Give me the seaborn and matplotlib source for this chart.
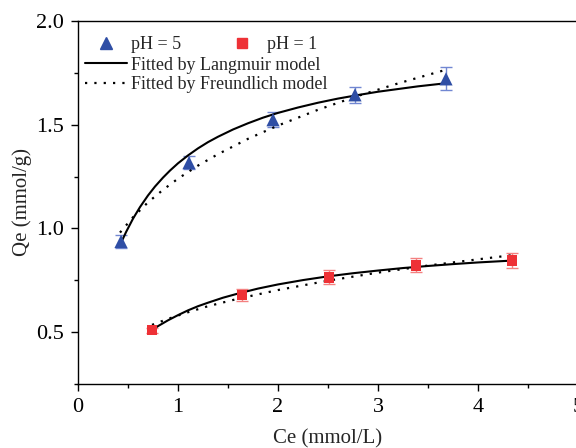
import numpy as np
import pandas as pd
import matplotlib
matplotlib.use("Agg")
import matplotlib.pyplot as plt
from matplotlib.lines import Line2D
from matplotlib.ticker import MultipleLocator
import seaborn as sns

# measured points (mean +/- error)
ce_ph5 = [0.43, 1.11, 1.95, 2.77, 3.68]
qe_ph5 = [0.937, 1.317, 1.524, 1.644, 1.721]
err_ph5 = [0.03, 0.03, 0.035, 0.04, 0.056]

ce_ph1 = [0.74, 1.64, 2.51, 3.38, 4.34]
qe_ph1 = [0.51, 0.680, 0.764, 0.822, 0.845]
err_ph1 = [0.012, 0.03, 0.034, 0.034, 0.038]

# fitted curves
lang_x5 = [0.43, 0.48, 0.55, 0.62, 0.7, 0.77, 0.85, 0.92, 1.0, 1.1, 1.2, 1.3, 1.4,
           1.55, 1.7, 1.85, 2.0, 2.2, 2.4, 2.6, 2.8, 3.0, 3.2, 3.4, 3.68]
lang_y5 = [0.930, 0.982, 1.047, 1.103, 1.159, 1.202, 1.245, 1.279, 1.314, 1.352, 1.386,
           1.416, 1.442, 1.477, 1.507, 1.534, 1.557, 1.583, 1.606, 1.626, 1.643, 1.659,
           1.672, 1.685, 1.700]
freu_x5 = [0.42, 0.55, 0.7, 0.85, 1.0, 1.2, 1.4, 1.7, 2.0, 2.4, 2.8, 3.2, 3.68]
freu_y5 = [0.980, 1.054, 1.126, 1.186, 1.240, 1.303, 1.358, 1.432, 1.496, 1.572, 1.639, 1.699, 1.765]

lang_x1 = [0.74, 0.8, 0.9, 1.0, 1.1, 1.2, 1.3, 1.45, 1.6, 1.8, 2.0, 2.25, 2.5, 2.75,
           3.0, 3.25, 3.5, 3.75, 4.0, 4.34]
lang_y1 = [0.510, 0.529, 0.557, 0.582, 0.605, 0.625, 0.642, 0.666, 0.686, 0.710, 0.730,
           0.751, 0.769, 0.784, 0.797, 0.809, 0.819, 0.828, 0.836, 0.845]
freu_x1 = [0.74, 0.9, 1.1, 1.3, 1.6, 2.0, 2.5, 3.0, 3.5, 4.0, 4.34]
freu_y1 = [0.535, 0.564, 0.596, 0.625, 0.661, 0.703, 0.748, 0.787, 0.821, 0.851, 0.871]

x_ticks = [0, 1, 2, 3, 4, 5]
y_ticks = [0.5, 1.0, 1.5, 2.0]

BLUE = "#2F4EA5"
BLUE_ERR = "#7187D2"
RED = "#EE3136"
RED_ERR = "#F48080"

sns.set_theme(style="ticks")
plt.rcParams["font.family"] = ["Liberation Serif", "DejaVu Serif"]

fig = plt.figure(figsize=(5.76, 4.48), dpi=100)
ax = fig.add_axes([78 / 576, (448 - 384) / 448, 500 / 576, (384 - 21) / 448])

# fitted lines
lines = pd.concat([
    pd.DataFrame({"x": lang_x5, "y": lang_y5, "curve": "L5"}),
    pd.DataFrame({"x": lang_x1, "y": lang_y1, "curve": "L1"}),
])
dots = pd.concat([
    pd.DataFrame({"x": freu_x5, "y": freu_y5, "curve": "F5"}),
    pd.DataFrame({"x": freu_x1, "y": freu_y1, "curve": "F1"}),
])
sns.lineplot(data=lines, x="x", y="y", units="curve", estimator=None, sort=False,
             color="black", lw=1.5, ax=ax, zorder=3)
sns.lineplot(data=dots, x="x", y="y", units="curve", estimator=None, sort=False,
             color="black", lw=1.6, ls=(0, (1, 3.2)), ax=ax, zorder=3)

# error bars + markers
ax.errorbar(ce_ph5, qe_ph5, yerr=err_ph5, fmt="none", ecolor=BLUE_ERR,
            elinewidth=1, capsize=4, capthick=1, zorder=2)
ax.errorbar(ce_ph1, qe_ph1, yerr=err_ph1, fmt="none", ecolor=RED_ERR,
            elinewidth=1, capsize=4, capthick=1, zorder=2)
sns.scatterplot(x=ce_ph5, y=qe_ph5, marker="^", s=90, color=BLUE, edgecolor="none",
                ax=ax, zorder=4)
sns.scatterplot(x=ce_ph1, y=qe_ph1, marker="s", s=55, color=RED, edgecolor="none",
                ax=ax, zorder=4)

ax.set_xlim(0, 5)
ax.set_ylim(0.25, 2.0)
ax.set_xticks(x_ticks)
ax.set_yticks(y_ticks)
ax.set_yticklabels([f"{v:.1f}" for v in y_ticks])
ax.xaxis.set_minor_locator(MultipleLocator(0.5))
ax.yaxis.set_minor_locator(MultipleLocator(0.25))
ax.tick_params(which="major", direction="out", length=5, width=1, labelsize=16,
               color="black", labelcolor="black", pad=5)
ax.tick_params(which="minor", direction="out", length=3, width=1, color="black")
for sp in ax.spines.values():
    sp.set_color("black")
    sp.set_linewidth(1)
ax.set_xlabel("Ce (mmol/L)", fontsize=15, labelpad=9)
ax.set_ylabel("Qe (mmol/g)", fontsize=15, labelpad=3)

# legends: markers on one row, fitted lines below
h_tri = Line2D([], [], ls="none", marker="^", ms=9, color=BLUE)
h_sq = Line2D([], [], ls="none", marker="s", ms=7, color=RED)
leg1 = ax.legend([h_tri, h_sq], ["pH = 5", "pH = 1"], ncol=2, loc="upper left",
                 bbox_to_anchor=(0.014, 0.958), frameon=False, fontsize=13,
                 handlelength=2.33, handletextpad=0.22, columnspacing=2.2,
                 borderpad=0, borderaxespad=0)
ax.add_artist(leg1)
h_l = Line2D([], [], color="black", lw=1.5)
h_f = Line2D([], [], color="black", lw=1.6, ls=(0, (1, 3.2)))
ax.legend([h_l, h_f], ["Fitted by Langmuir model", "Fitted by Freundlich model"],
          loc="upper left", bbox_to_anchor=(0.014, 0.902), frameon=False, fontsize=13,
          handlelength=2.33, handletextpad=0.22, labelspacing=0.15,
          borderpad=0, borderaxespad=0)

fig.savefig("out.png", dpi=100)
